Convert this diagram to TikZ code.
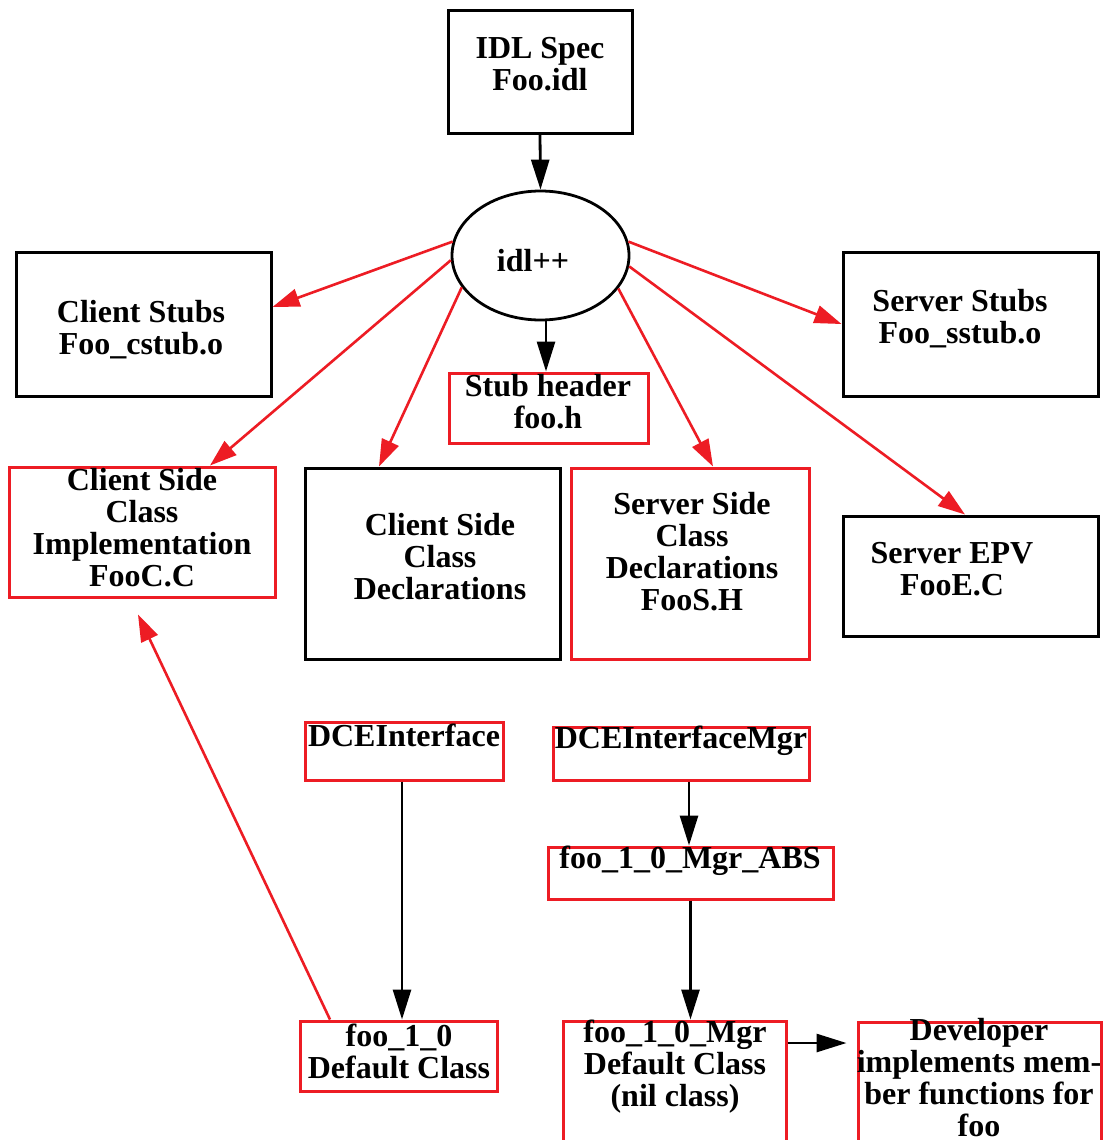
\documentclass[tikz,border=0pt]{standalone}
\usepackage{fontspec}
\setmainfont{Liberation Serif}
\usetikzlibrary{arrows.meta,shapes.geometric}
\definecolor{idlred}{RGB}{237,28,36}
\begin{document}
\begin{tikzpicture}[x=0.5pt,y=-0.5pt,
  blkbox/.style={draw=black,line width=1.5pt,inner sep=0pt},
  redbox/.style={draw=idlred,line width=1.5pt,inner sep=0pt},
  lbl/.style={font=\bfseries\fontsize{16}{16}\selectfont,align=center,inner sep=0pt},
  blkarrow/.style={draw=black,line width=1.4pt,-{Triangle[length=15pt,width=9pt]}},
  redarrow/.style={draw=idlred,line width=1.3pt,-{Triangle[length=13.5pt,width=9pt]}}]
\clip (0,0) rectangle (1104,1140);
\fill[white] (0,0) rectangle (1104,1140);

% boxes
\node[blkbox,minimum width=92pt,minimum height=61.5pt] (spec) at (540,71.5) {};
\node[ellipse,draw=black,line width=1.4pt,minimum width=88.5pt,minimum height=64.5pt,inner sep=0pt] (idl) at (540.5,255.5) {};
\node[blkbox,minimum width=127.5pt,minimum height=72pt] (cstub) at (143.5,324) {};
\node[blkbox,minimum width=127.5pt,minimum height=72pt] (sstub) at (970.5,324) {};
\node[redbox,minimum width=99.5pt,minimum height=35pt] (hdr) at (548.5,408) {};
\node[redbox,minimum width=133pt,minimum height=65pt] (cimpl) at (142,532) {};
\node[blkbox,minimum width=127.5pt,minimum height=95.5pt] (cdecl) at (432.5,563.5) {};
\node[redbox,minimum width=119pt,minimum height=95.5pt] (sdecl) at (690,563.5) {};
\node[blkbox,minimum width=127.5pt,minimum height=60pt] (epv) at (970.5,576) {};
\node[redbox,minimum width=99pt,minimum height=29pt] (dce) at (404,751) {};
\node[redbox,minimum width=128pt,minimum height=26.5pt] (dcemgr) at (681,753.5) {};
\node[redbox,minimum width=142.5pt,minimum height=26pt] (abs) at (690.5,873) {};
\node[redbox,minimum width=98.5pt,minimum height=35pt] (def) at (398.5,1056) {};
\node[redbox,minimum width=111.5pt,minimum height=69pt] (mgrdef) at (674.5,1090) {};
\node[redbox,minimum width=121.5pt,minimum height=69pt] (dev) at (979.5,1091) {};

% labels
\node[lbl] (specT) at (540,64) {IDL Spec\\Foo.idl};
\node[lbl] (idlT) at (533,261) {idl++};
\node[lbl] (cstubT) at (141,330) {Client Stubs\\Foo\_cstub.o};
\node[lbl] (sstubT) at (960,319) {Server Stubs\\Foo\_sstub.o};
\node[lbl] (hdrT) at (548,402) {Stub header\\foo.h};
\node[lbl] (cimplT) at (142,528) {Client Side\\Class\\Implementation\\FooC.C};
\node[lbl] (cdeclT) at (440,557) {Client Side\\Class\\Declarations};
\node[lbl] (sdeclT) at (692,552) {Server Side\\Class\\Declarations\\FooS.H};
\node[lbl] (epvT) at (952,569) {Server EPV\\FooE.C};
\node[lbl] (dceT) at (404,735) {DCEInterface};
\node[lbl] (dcemgrT) at (681,741) {DCEInterfaceMgr};
\node[lbl] (absT) at (690,861) {foo\_1\_0\_Mgr\_ABS};
\node[lbl] (defT) at (399,1051) {foo\_1\_0\\Default Class};
\node[lbl] (mgrdefT) at (675,1067) {foo\_1\_0\_Mgr\\Default Class\\(nil class)};
\node[lbl] (devT) at (979,1078) {Developer\\implements mem-\\ber functions for\\foo};

% connectors
\draw[blkarrow] (spec.south) -- (idl.north);
\draw[blkarrow] ([xshift=2.75pt]idl.south) -- ([xshift=2.75pt]idl.south |- hdr.north);
\draw[redarrow] (idl.171) -- ([yshift=8.5pt]cstub.east);
\draw[redarrow] (idl.9.7) -- (sstub.west);
\draw[redarrow] (idl.183) -- ([xshift=34pt]cimpl.north);
\draw[redarrow] (idl.202.5) -- ([xshift=-26.75pt]cdecl.north);
\draw[redarrow] (idl.337) -- ([xshift=11.5pt]sdecl.north);
\draw[redarrow] (idl.353) -- ([xshift=-2.75pt]epv.north);
\draw[blkarrow] ([xshift=-1pt]dce.south) -- ([xshift=-1pt]dce.south |- def.north);
\draw[blkarrow] ([xshift=4pt]dcemgr.south) -- ([xshift=4pt]dcemgr.south |- abs.north);
\draw[blkarrow] (abs.south) -- (abs.south |- mgrdef.north);
\draw[redarrow] ([xshift=-34.25pt]def.north) -- ([xshift=-2pt,yshift=-8pt]cimpl.south);
\draw[blkarrow] ([yshift=23.5pt]mgrdef.east) -- ([yshift=23.5pt,xshift=-5pt]mgrdef.east -| dev.west);
\end{tikzpicture}
\end{document}
